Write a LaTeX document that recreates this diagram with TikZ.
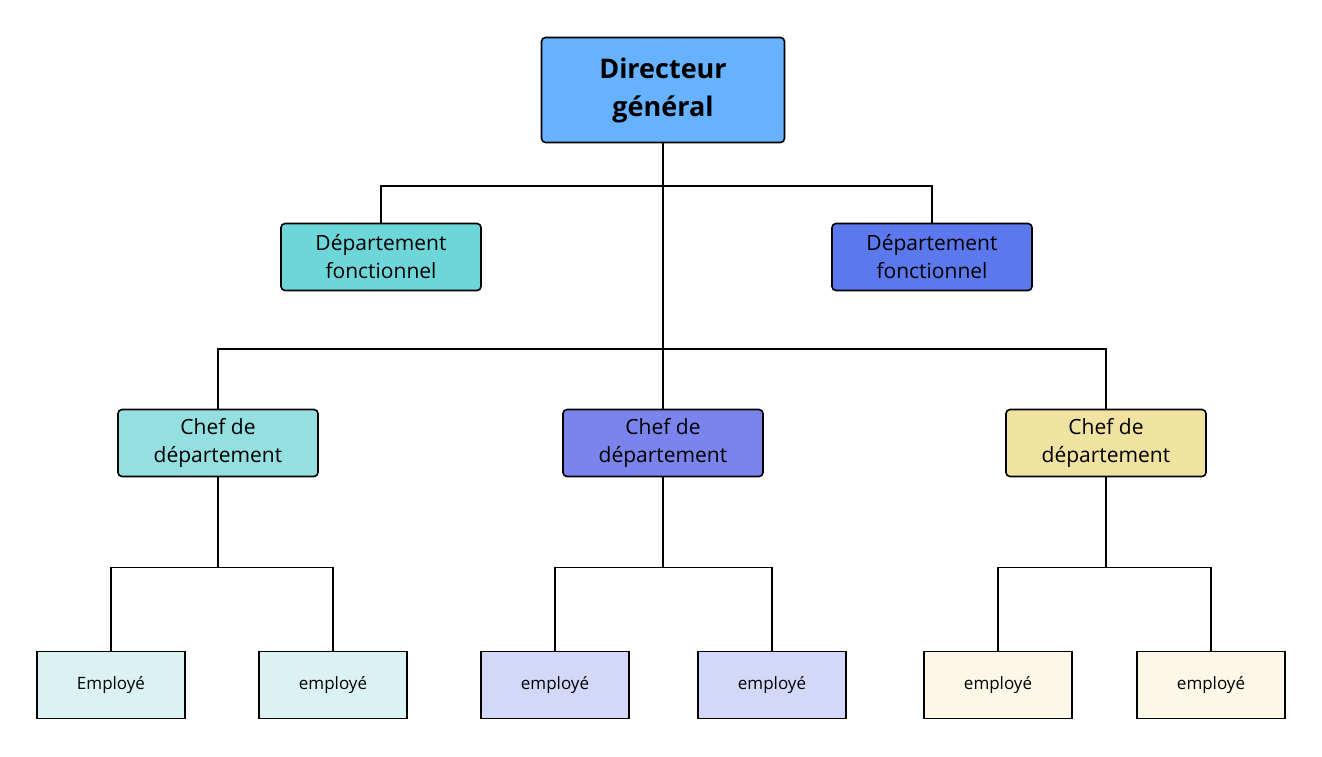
\documentclass[tikz,border=0pt]{standalone}
\usepackage{fontspec}
\setmainfont{Open Sans}
\usepackage{tikz}
\usetikzlibrary{positioning}
\definecolor{dirc}{HTML}{66B2FF}
\definecolor{depa}{HTML}{6DD6D8}
\definecolor{depb}{HTML}{5B78EC}
\definecolor{chfa}{HTML}{94E0E1}
\definecolor{chfb}{HTML}{7B84EC}
\definecolor{chfc}{HTML}{F0E2A0}
\definecolor{empa}{HTML}{DAF3F2}
\definecolor{empb}{HTML}{D4D8F8}
\definecolor{empc}{HTML}{FBF8E8}
\begin{document}
\begin{tikzpicture}[x=1pt,y=-1pt,line width=1.6pt]
    \tikzstyle{box}=[draw,rounded corners=4pt,minimum height=67pt,minimum width=200pt,align=center,font=\fontsize{21}{28}\selectfont,inner sep=2pt]
    \tikzstyle{emp}=[draw,minimum height=67pt,minimum width=148pt,font=\fontsize{17}{20}\selectfont]
    \useasboundingbox (0,0) rectangle (1322,756);
    \node[box,fill=dirc,minimum width=243pt,minimum height=105pt,font=\bfseries\fontsize{27}{38}\selectfont] (dir) at (663,90) {Directeur\\général};
    \node[box,fill=depa] (dep1) at (381,257) {Département\\fonctionnel};
    \node[box,fill=depb] (dep2) at (932,257) {Département\\fonctionnel};
    \node[box,fill=chfa] (chf1) at (218,443) {Chef de\\département};
    \node[box,fill=chfb] (chf2) at (663,443) {Chef de\\département};
    \node[box,fill=chfc] (chf3) at (1106,443) {Chef de\\département};
    \node[emp,fill=empa] (e1) at (111,685) {Employé};
    \node[emp,fill=empa] (e2) at (333,685) {employé};
    \node[emp,fill=empb] (e3) at (555,685) {employé};
    \node[emp,fill=empb] (e4) at (772,685) {employé};
    \node[emp,fill=empc] (e5) at (998,685) {employé};
    \node[emp,fill=empc] (e6) at (1211,685) {employé};

    % tree connectors
    \draw[line width=2.6pt] (dir) -- (chf2);
    \draw (dep1.north) |- (663,186) -| (dep2.north);
    \draw (chf1.north) |- (663,349) -| (chf3.north);
    \foreach \c/\a/\b in {chf1/e1/e2,chf2/e3/e4,chf3/e5/e6}{
        \draw[line width=2.2pt] (\c.south) -- ++(0,90) coordinate (m);
        \draw (\a.north) |- (m) -| (\b.north);
    }
\end{tikzpicture}
\end{document}
